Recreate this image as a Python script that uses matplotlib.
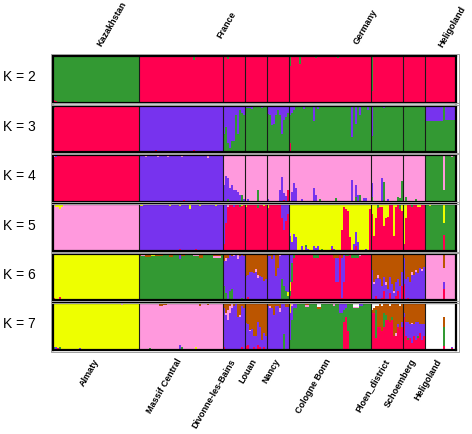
import matplotlib
matplotlib.use('Agg')
import matplotlib.pyplot as plt
from matplotlib.patches import Rectangle
import numpy as np

plt.rcParams['font.family'] = ['Liberation Sans', 'DejaVu Sans']

# populations, left to right, and number of individuals in each
pops = ['Almaty', 'Massif Central', 'Divonne-les-Bains', 'Louan', 'Nancy',
        'Cologne Bonn', 'Ploen_district', 'Schoemberg', 'Heligoland']
n_ind = [43, 42, 11, 11, 11, 41, 16, 11, 16]
countries = ['Kazakhstan', 'France', 'Germany', 'Heligoland']
k_values = [2, 3, 4, 5, 6, 7]

colors = {'red': '#ff0050', 'green': '#339933', 'purple': '#7733ee',
          'pink': '#ff99dd', 'yellow': '#eeff00', 'brown': '#bb5500',
          'white': '#ffffff'}


def one(key, vals):
    # one individual per value, minor cluster 'key'
    return [(1, {key: v}) for v in vals]


# each K: stacking order (bottom -> top), main cluster per population,
# and runs of (n individuals, minor cluster fractions)
order2 = ['red', 'green']
base2 = ['green', 'red', 'red', 'red', 'red', 'red', 'red', 'red', 'red']
runs2 = [
    [(1, {'red': .05}), (1, {'red': .03})],
    [(27, {}), (1, {'green': .08})],
    [(2, {}), (1, {'green': .05})],
    [],
    [],
    [(1, {'green': .2}), (4, {}), (1, {'green': .17}), (7, {}), (1, {'green': .03}),
     (10, {}), (1, {'green': .03})],
    [(1, {'green': .74})],
    [],
    [],
]

order3 = ['red', 'green', 'purple']
base3 = ['red', 'purple', 'green', 'green', 'green', 'green', 'green', 'green', 'green']
runs3 = [
    [(1, {'green': .06}), (1, {'purple': .04})],
    [(8, {}), (1, {'red': .04}), (10, {}), (1, {'green': .03}), (7, {}), (1, {'red': .05})],
    one('purple', [.6, .45, .8, .9, .75, .75, .2, .6, .1, .15, .2]),
    [(3, {'purple': .05}), (1, {'purple': .07}), (4, {}), (1, {'purple': .05})],
    one('purple', [.17, .2, .42, .4, .2, .1, .2, .6, .3, .25, .15]),
    [(1, {'purple': .2, 'red': .2}), (1, {'purple': .15}), (1, {'purple': .1}), (2, {}),
     (1, {'red': .03}), (1, {}), (1, {'purple': .08}), (4, {}), (1, {'purple': .32}),
     (1, {}), (1, {'purple': .08}), (16, {}), (1, {'purple': .68}), (1, {}),
     (1, {'purple': .4}), (1, {}), (1, {'purple': .2}), (3, {}), (1, {'purple': .1})],
    [(1, {'purple': .65}), (5, {}), (1, {'purple': .05, 'red': .03})],
    [],
    [(9, {'purple': .32}), (1, {}), (6, {'purple': .3})],
]

order4 = ['red', 'green', 'purple', 'pink']
base4 = ['red', 'purple', 'pink', 'pink', 'pink', 'pink', 'pink', 'pink', 'green']
runs4 = [
    [(1, {'pink': .05}), (1, {'purple': .04}), (3, {}), (1, {'green': .03})],
    [(3, {}), (1, {'pink': .04}), (5, {}), (1, {'pink': .05}), (4, {}), (1, {'pink': .04}),
     (6, {}), (1, {'pink': .05}), (1, {'red': .03}), (6, {}), (1, {'green': .04}),
     (4, {}), (1, {'pink': .06})],
    [(1, {'purple': .35}), (1, {'purple': .55}), (1, {'purple': .45, 'green': .05}),
     (1, {'purple': .3}), (1, {'purple': .35}), (1, {'purple': .25}), (1, {'purple': .25}),
     (1, {'purple': .2}), (1, {'purple': .15}), (1, {'green': .15}), (1, {'purple': .05})],
    [(1, {}), (1, {'purple': .05}), (4, {}), (1, {'green': .25})],
    [(1, {'purple': .05}), (5, {}), (1, {'purple': .25}), (1, {'purple': .52}),
     (1, {'purple': .15, 'red': .03}), (1, {'purple': .12}), (1, {'red': .25})],
    [(1, {}), (1, {'purple': .2}), (1, {'purple': .39}), (1, {'purple': .3}), (2, {}),
     (1, {'purple': .06}), (5, {}), (1, {'purple': .3}), (1, {'purple': .15}), (1, {}),
     (1, {'green': .05}), (7, {}), (1, {'green': .08}), (7, {}), (1, {'purple': .46}),
     (1, {}), (1, {'purple': .25, 'green': .1}), (1, {'purple': .15}), (1, {'green': .15}),
     (1, {}), (1, {'purple': .08}), (1, {'purple': .08})],
    [(1, {'purple': .3, 'green': .1}), (4, {}), (1, {'purple': .5}), (1, {'green': .43}),
     (1, {}), (1, {'purple': .05}), (4, {}), (1, {'green': .1}), (1, {'green': .08}),
     (1, {'green': .45})],
    [(1, {}), (1, {'green': .1}), (4, {}), (1, {'green': .05})],
    [(9, {}), (1, {'pink': .75}), (3, {}), (1, {'pink': .04})],
]

order5 = ['red', 'purple', 'green', 'pink', 'yellow']
base5 = ['pink', 'purple', 'red', 'red', 'red', 'yellow', 'red', 'red', 'green']
runs5 = [
    [(1, {}), (2, {'yellow': .06, 'green': .02}), (1, {'yellow': .1}), (1, {'yellow': .05}),
     (25, {}), (1, {'red': .03})],
    [(2, {'yellow': .03}), (13, {}), (1, {'yellow': .04}), (4, {}),
     (1, {'yellow': .04, 'red': .05}), (4, {}), (1, {'yellow': .1}), (2, {}),
     (1, {'red': .04}), (1, {}), (1, {'yellow': .04}), (7, {}), (1, {'yellow': .04})],
    [(1, {'purple': .85}), (1, {'purple': .4}), (1, {'pink': .05}), (2, {}),
     (1, {'purple': .05}), (2, {}), (1, {'green': .05}), (1, {'yellow': .03})],
    [(1, {'yellow': .05}), (5, {}), (1, {'green': .08}), (2, {}), (1, {'yellow': .03})],
    [(1, {'yellow': .08}), (6, {}), (1, {'purple': .3}), (1, {'purple': .55}),
     (1, {'purple': .35}), (1, {'purple': .2})],
    [(1, {'purple': .33, 'pink': .05}), (1, {'purple': .2}), (1, {'purple': .36}),
     (1, {'purple': .3}), (2, {}), (1, {'purple': .1}), (1, {}),
     (1, {'purple': .08, 'green': .05}), (1, {'purple': .05}), (2, {}), (1, {'purple': .1}),
     (1, {'purple': .06}), (1, {'purple': .1}), (1, {}), (1, {'green': .05}), (4, {}),
     (1, {'purple': .06, 'red': .05}), (1, {'purple': .04}), (3, {}), (1, {'red': .45}),
     (1, {'red': .95}), (1, {'red': .9}), (1, {'red': .85}), (1, {'red': .3}), (1, {}),
     (1, {'purple': .15}), (1, {'purple': .3, 'red': .1}), (1, {'purple': .2}), (3, {}),
     (1, {'purple': .05}), (1, {}), (1, {'red': .9})],
    [(1, {'yellow': .21}), (1, {'yellow': .67}), (1, {'yellow': .3}), (1, {'green': .08}),
     (2, {'yellow': .05}), (1, {'yellow': .46}), (1, {'yellow': .3}), (1, {'yellow': .28}),
     (2, {}), (1, {'yellow': .67}), (1, {'yellow': .05}), (1, {}), (1, {'green': .1}),
     (1, {'yellow': .15})],
    [(1, {'yellow': .85}), (1, {'yellow': .3}), (2, {}), (1, {'green': .05}), (2, {}),
     (2, {'yellow': .05})],
    [(2, {}), (1, {'yellow': .03}), (6, {}), (1, {'yellow': .4, 'red': .35}), (5, {}),
     (1, {'yellow': .03})],
]

order6 = ['red', 'green', 'yellow', 'purple', 'pink', 'brown']
base6 = ['yellow', 'green', 'purple', 'purple', 'purple', 'red', 'purple', 'purple', 'pink']
runs6 = [
    [(1, {'red': .05}), (1, {'green': .04}), (1, {'purple': .03}), (1, {'red': .08}),
     (10, {}), (1, {'purple': .03}), (15, {}), (1, {'purple': .03}), (5, {}), (1, {'red': .03})],
    [(1, {'brown': .05}), (2, {'pink': .04}), (3, {'brown': .07, 'red': .02}),
     (2, {'yellow': .04}), (4, {'brown': .05}), (3, {}), (2, {'brown': .06}), (3, {}),
     (1, {'purple': .12, 'red': .03}), (2, {'brown': .05}), (4, {'brown': .03}),
     (3, {'pink': .05}), (2, {'brown': .08}), (5, {'brown': .03}),
     (4, {'brown': .05, 'pink': .03})],
    [(1, {'green': .3, 'brown': .15}), (1, {'green': .15, 'brown': .1, 'pink': .05}),
     (1, {'brown': .08}), (1, {'green': .2}), (1, {'green': .25, 'brown': .05}),
     (1, {'pink': .04}), (1, {}), (1, {'pink': .08, 'brown': .03}), (1, {'brown': .05}),
     (1, {'green': .05}), (1, {'brown': .05})],
    [(1, {'brown': .47}), (1, {'brown': .45, 'red': .08}), (1, {'brown': .4}),
     (1, {'brown': .38}), (1, {'brown': .42}), (1, {'brown': .33, 'pink': .05}),
     (1, {'brown': .45, 'pink': .08}), (1, {'brown': .47}), (1, {'brown': .5}),
     (1, {'brown': .58}), (1, {'brown': .55})],
    [(2, {'brown': .05}), (1, {'brown': .12}), (1, {}), (1, {'brown': .47}),
     (1, {'brown': .3}), (1, {'pink': .05}), (1, {'green': .45}), (1, {'green': .3}),
     (1, {'green': .2}), (1, {'green': .1, 'yellow': .08})],
    [(1, {'yellow': .2, 'purple': .6, 'green': .1}), (1, {'green': .4, 'purple': .2}),
     (1, {'green': .1}), (9, {}), (3, {'green': .08}), (7, {}), (1, {'brown': .1}),
     (2, {'purple': .5, 'brown': .1}), (1, {}), (1, {'purple': .85, 'brown': .1}),
     (1, {'purple': .6}), (2, {'green': .05}), (1, {}), (4, {'green': .1}),
     (1, {'pink': .05})],
    [(1, {'brown': .35}), (1, {'brown': .6, 'pink': .05}), (1, {'brown': .55, 'red': .1}),
     (1, {'brown': .45, 'pink': .08}), (1, {'brown': .55}), (1, {'brown': .7, 'red': .05}),
     (1, {'brown': .5, 'red': .2}), (1, {'brown': .6, 'pink': .06}), (1, {'brown': .75}),
     (1, {'brown': .5, 'red': .15}), (1, {'brown': .65}), (1, {'brown': .8, 'pink': .05}),
     (1, {'brown': .6, 'red': .1}), (1, {'brown': .55, 'red': .2}), (1, {'brown': .7}),
     (1, {'brown': .4, 'red': .3})],
    [(1, {'red': .35, 'brown': .1}), (1, {'brown': .55}), (1, {'brown': .5, 'red': .05}),
     (1, {'brown': .6}), (1, {'brown': .4, 'pink': .06}), (1, {'brown': .45}),
     (1, {'brown': .35, 'pink': .05}), (1, {'brown': .42}), (1, {'brown': .3}),
     (1, {'brown': .32, 'pink': .05}), (1, {'brown': .28})],
    [(9, {}), (1, {'brown': .3, 'red': .25, 'purple': .15})],
]

order7 = ['red', 'green', 'purple', 'yellow', 'pink', 'brown', 'white']
base7 = ['yellow', 'pink', 'purple', 'brown', 'purple', 'green', 'red', 'brown', 'white']
runs7 = [
    [(1, {'green': .05}), (1, {'purple': .05}), (1, {'red': .04}), (1, {'green': .06}),
     (9, {}), (1, {'purple': .03}), (20, {}), (1, {'pink': .03})],
    [(5, {}), (1, {'green': .03}), (4, {}), (2, {'brown': .06}), (2, {'brown': .04}),
     (6, {}), (1, {'purple': .1}), (1, {'green': .05}), (6, {}), (1, {'yellow': .05}),
     (1, {}), (1, {'brown': .06}), (3, {}), (1, {'brown': .04})],
    [(1, {'brown': .1, 'red': .05}), (1, {'brown': .2, 'pink': .05}),
     (1, {'brown': .15, 'pink': .2}), (1, {'pink': .15, 'brown': .05}), (1, {'pink': .1}),
     (1, {'brown': .05}), (1, {}), (1, {'brown': .3}), (1, {'brown': .25, 'pink': .05}),
     (1, {'red': .05, 'brown': .05}), (1, {'brown': .1})],
    [(1, {'purple': .5, 'red': .08}), (1, {'purple': .45, 'red': .1}),
     (1, {'purple': .4, 'pink': .03}), (1, {'purple': .45}), (1, {'purple': .25, 'red': .05}),
     (1, {'purple': .3}), (1, {'purple': .5, 'red': .1}), (1, {'purple': .45, 'red': .05}),
     (1, {'purple': .2}), (1, {'purple': .3, 'red': .05}), (1, {'purple': .3})],
    [(1, {'brown': .05}), (1, {'pink': .06, 'brown': .05}), (1, {'brown': .1}),
     (1, {'brown': .25}), (2, {'brown': .05}), (1, {'pink': .08, 'brown': .1}), (1, {}),
     (1, {'green': .33}), (2, {'brown': .08})],
    [(1, {'yellow': .2, 'purple': .6}), (1, {'purple': .3, 'pink': .05}), (2, {'purple': .1}),
     (4, {}), (2, {'pink': .05, 'brown': .03}), (4, {}), (2, {'white': .08, 'brown': .05}),
     (6, {}), (1, {'pink': .05}), (2, {}), (2, {'purple': .2}),
     (1, {'red': .6, 'purple': .15}), (1, {'red': .7, 'purple': .1}), (1, {'red': .4}),
     (2, {}), (3, {'white': .08, 'pink': .03}), (2, {'purple': .05})],
    [(1, {'white': .15, 'brown': .05}), (1, {'white': .1, 'brown': .1}),
     (1, {'green': .6, 'brown': .1, 'white': .05}), (1, {'brown': .45, 'white': .05}),
     (1, {'brown': .5}), (1, {'brown': .55, 'white': .05}), (1, {'brown': .2, 'green': .3}),
     (1, {'brown': .25, 'green': .1}), (1, {'brown': .35}), (1, {'brown': .35, 'white': .05}),
     (1, {'brown': .3, 'green': .05}), (1, {'brown': .7}), (1, {'brown': .65, 'pink': .05}),
     (1, {'brown': .45, 'purple': .05}), (1, {'brown': .5, 'white': .05}),
     (1, {'brown': .4, 'purple': .1})],
    [(1, {'red': .7, 'purple': .1}), (1, {'red': .3, 'purple': .3}),
     (1, {'red': .2, 'purple': .35, 'green': .05}), (1, {'red': .25, 'purple': .3}),
     (1, {'red': .15, 'purple': .4, 'pink': .03}), (1, {'red': .3, 'purple': .25}),
     (1, {'red': .2, 'purple': .4}), (1, {'red': .25, 'purple': .3, 'green': .05}),
     (1, {'red': .35, 'purple': .2}), (1, {'red': .2, 'purple': .35}),
     (1, {'red': .3, 'purple': .25})],
    [(9, {}), (1, {'red': .08, 'green': .4, 'brown': .22}), (3, {}),
     (1, {'red': .04, 'purple': .03})],
]

panels = [(order2, base2, runs2), (order3, base3, runs3), (order4, base4, runs4),
          (order5, base5, runs5), (order6, base6, runs6), (order7, base7, runs7)]


def build(order, bases, runs):
    rows = []
    for base, pop_runs, n in zip(bases, runs, n_ind):
        pop_rows = []
        for count, minor in pop_runs:
            pop_rows += [minor] * count
        pop_rows += [{}] * (n - len(pop_rows))
        for minor in pop_rows[:n]:
            q = dict(minor)
            q[base] = 1 - sum(minor.values())
            rows.append([q.get(c, 0) for c in order])
    return np.array(rows)


W, H = 472, 435
fig = plt.figure(figsize=(W / 100, H / 100), dpi=100)

left, right = 53.3, 456.5
top0, step, height = 57.2, 49.4, 46.6
n_total = sum(n_ind)
bounds = np.cumsum(n_ind)[:-1]

for i, (k, (order, bases, runs)) in enumerate(zip(k_values, panels)):
    top = top0 + i * step
    ax = fig.add_axes([left / W, 1 - (top + height) / H, (right - left) / W, height / H])
    q = build(order, bases, runs)
    x = np.arange(n_total)
    bottom = np.zeros(n_total)
    for j, c in enumerate(order):
        ax.bar(x, q[:, j], bottom=bottom, width=1.0, align='edge', color=colors[c],
               linewidth=0, antialiased=False)
        bottom += q[:, j]
    for b in bounds:
        ax.axvline(b, color='#1a1a1a', lw=0.8)
    ax.set_xlim(0, n_total)
    ax.set_ylim(0, 1)
    ax.set_xticks([])
    ax.set_yticks([])
    for s in ax.spines.values():
        s.set_linewidth(1.6)
        s.set_color('black')
    # thin grey frame just outside each panel
    fig.patches.append(Rectangle(((left - 2.5) / W, 1 - (top + height + 2.2) / H),
                                 (right - left + 5) / W, (height + 4.4) / H,
                                 transform=fig.transFigure, fill=False,
                                 edgecolor='#a0a0a0', lw=0.7))
    fig.text(3 / W, 1 - (top + height / 2 - 3) / H, 'K = %d' % k,
             fontsize=10, ha='left', va='center')

# country names along the top
top_pos = [(101.5, 47), (221.5, 39), (357.5, 45), (442.5, 48)]
for name, (px, py) in zip(countries, top_pos):
    fig.text(px / W, 1 - py / H, name, fontsize=6.5, fontweight='bold', rotation=60,
             rotation_mode='anchor', ha='left', va='baseline')

# population names along the bottom
bottom_x = [99, 182, 236, 257, 280, 331, 389, 416, 442]
for name, px in zip(pops, bottom_x):
    fig.text(px / W, 1 - 361 / H, name, fontsize=6.5, fontweight='bold', rotation=60,
             rotation_mode='anchor', ha='right', va='baseline')

fig.savefig('out.png', dpi=100)
